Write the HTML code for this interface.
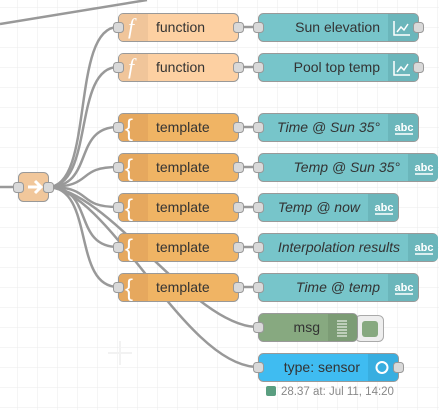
<!DOCTYPE html>
<html><head><meta charset="utf-8"><style>
html,body{margin:0;padding:0;background:#fff;}
svg{display:block;font-family:"Liberation Sans",sans-serif;}
</style></head><body>
<svg width="439" height="410" viewBox="0 0 439 410" xmlns="http://www.w3.org/2000/svg">
<defs>
<pattern id="g" x="17" y="7" width="20" height="20" patternUnits="userSpaceOnUse">
<path d="M0 0H20M0 0V20" stroke="#ebebeb" stroke-width="1" fill="none"/>
</pattern>
</defs>
<rect width="439" height="410" fill="url(#g)"/>
<path d="M108 353h24M120 341v24" stroke="#f2f2f2" stroke-width="2"/>
<g fill="none" stroke="#999" stroke-width="2.5">
<path d="M0 24 L147 0"/>
<path d="M0 187 L18 187"/>
<path d="M48 187 C95 187 70 27 118 27"/>
<path d="M48 187 C95 187 72 67 118 67"/>
<path d="M48 187 C95 187 72 127 118 127"/>
<path d="M48 187 C95 187 75 167 118 167"/>
<path d="M48 187 C95 187 75 207 118 207"/>
<path d="M48 187 C95 187 72 247 118 247"/>
<path d="M48 187 C95 187 72 287 118 287"/>
<path d="M48 187 C110 190 193 327 258 327"/>
<path d="M48 187 C110 190 185 367 258 367"/>
<path d="M238 27H258M238 67H258M238 127H258M238 167H258M238 207H258M238 247H258M238 287H258"/>
</g>
<rect x="18.5" y="172.5" width="30" height="29" rx="5" fill="#f1c79b" stroke="#999"/>
<path d="M28 187h12M35 181l6 6-6 6" stroke="#fff" stroke-width="3" fill="none"/>
<g>
<g>
<rect x="118.5" y="13.5" width="120" height="28" rx="5" fill="#fdd0a2" stroke="#999"/>
<path d="M123 14h25v27h-25a4 4 0 0 1-4-4v-19a4 4 0 0 1 4-4z" fill="#f0c59a"/>
<text x="128" y="34" fill="#fff" font-size="22" font-style="italic" font-family="Liberation Serif,serif">f</text>
<text x="156" y="32" font-size="14" fill="#333">function</text>
</g>
<g>
<rect x="118.5" y="53.5" width="120" height="28" rx="5" fill="#fdd0a2" stroke="#999"/>
<path d="M123 54h25v27h-25a4 4 0 0 1-4-4v-19a4 4 0 0 1 4-4z" fill="#f0c59a"/>
<text x="128" y="74" fill="#fff" font-size="22" font-style="italic" font-family="Liberation Serif,serif">f</text>
<text x="156" y="72" font-size="14" fill="#333">function</text>
</g>
</g>
<g font-size="14" fill="#333">
<g transform="translate(0,113)"><rect x="118.5" y="0.5" width="120" height="28" rx="5" fill="#f0b464" stroke="#999"/><path d="M123 1h25v27h-25a4 4 0 0 1-4-4v-19a4 4 0 0 1 4-4z" fill="#e6a85e"/><text x="125" y="23" fill="#fff" font-size="24">{</text><text x="156" y="19">template</text></g>
<g transform="translate(0,153)"><rect x="118.5" y="0.5" width="120" height="28" rx="5" fill="#f0b464" stroke="#999"/><path d="M123 1h25v27h-25a4 4 0 0 1-4-4v-19a4 4 0 0 1 4-4z" fill="#e6a85e"/><text x="125" y="23" fill="#fff" font-size="24">{</text><text x="156" y="19">template</text></g>
<g transform="translate(0,193)"><rect x="118.5" y="0.5" width="120" height="28" rx="5" fill="#f0b464" stroke="#999"/><path d="M123 1h25v27h-25a4 4 0 0 1-4-4v-19a4 4 0 0 1 4-4z" fill="#e6a85e"/><text x="125" y="23" fill="#fff" font-size="24">{</text><text x="156" y="19">template</text></g>
<g transform="translate(0,233)"><rect x="118.5" y="0.5" width="120" height="28" rx="5" fill="#f0b464" stroke="#999"/><path d="M123 1h25v27h-25a4 4 0 0 1-4-4v-19a4 4 0 0 1 4-4z" fill="#e6a85e"/><text x="125" y="23" fill="#fff" font-size="24">{</text><text x="156" y="19">template</text></g>
<g transform="translate(0,273)"><rect x="118.5" y="0.5" width="120" height="28" rx="5" fill="#f0b464" stroke="#999"/><path d="M123 1h25v27h-25a4 4 0 0 1-4-4v-19a4 4 0 0 1 4-4z" fill="#e6a85e"/><text x="125" y="23" fill="#fff" font-size="24">{</text><text x="156" y="19">template</text></g>
</g>
<g font-size="14" fill="#333">
<g transform="translate(0,13)"><rect x="258.5" y="0.5" width="160" height="28" rx="5" fill="#77c5ca" stroke="#999"/><path d="M388 1h26a4 4 0 0 1 4 4v19a4 4 0 0 1-4 4h-26z" fill="#6bb6bb"/><path d="M394 8v14h16M397 19l4-5 3 3 4-6" stroke="#fff" stroke-width="1.5" fill="none"/><text x="380" y="19" text-anchor="end">Sun elevation</text></g>
<g transform="translate(0,53)"><rect x="258.5" y="0.5" width="160" height="28" rx="5" fill="#77c5ca" stroke="#999"/><path d="M388 1h26a4 4 0 0 1 4 4v19a4 4 0 0 1-4 4h-26z" fill="#6bb6bb"/><path d="M394 8v14h16M397 19l4-5 3 3 4-6" stroke="#fff" stroke-width="1.5" fill="none"/><text x="380" y="19" text-anchor="end">Pool top temp</text></g>
<g transform="translate(0,113)"><rect x="258.5" y="0.5" width="160" height="28" rx="5" fill="#77c5ca" stroke="#999"/><path d="M388 1h26a4 4 0 0 1 4 4v19a4 4 0 0 1-4 4h-26z" fill="#6bb6bb"/><text x="404" y="18" text-anchor="middle" fill="#fff" font-size="11" font-weight="bold">abc</text><path d="M395 21h18" stroke="#fff" stroke-width="1.5"/><text x="380" y="19" text-anchor="end" font-style="italic">Time @ Sun 35°</text></g>
<g transform="translate(0,153)"><rect x="258.5" y="0.5" width="179" height="28" rx="5" fill="#77c5ca" stroke="#999"/><path d="M408 1h26a4 4 0 0 1 4 4v19a4 4 0 0 1-4 4h-26z" fill="#6bb6bb"/><text x="424" y="18" text-anchor="middle" fill="#fff" font-size="11" font-weight="bold">abc</text><path d="M415 21h18" stroke="#fff" stroke-width="1.5"/><text x="400" y="19" text-anchor="end" font-style="italic">Temp @ Sun 35°</text></g>
<g transform="translate(0,193)"><rect x="258.5" y="0.5" width="140" height="28" rx="5" fill="#77c5ca" stroke="#999"/><path d="M368 1h26a4 4 0 0 1 4 4v19a4 4 0 0 1-4 4h-26z" fill="#6bb6bb"/><text x="384" y="18" text-anchor="middle" fill="#fff" font-size="11" font-weight="bold">abc</text><path d="M375 21h18" stroke="#fff" stroke-width="1.5"/><text x="360" y="19" text-anchor="end" font-style="italic">Temp @ now</text></g>
<g transform="translate(0,233)"><rect x="258.5" y="0.5" width="179" height="28" rx="5" fill="#77c5ca" stroke="#999"/><path d="M408 1h26a4 4 0 0 1 4 4v19a4 4 0 0 1-4 4h-26z" fill="#6bb6bb"/><text x="424" y="18" text-anchor="middle" fill="#fff" font-size="11" font-weight="bold">abc</text><path d="M415 21h18" stroke="#fff" stroke-width="1.5"/><text x="400" y="19" text-anchor="end" font-style="italic">Interpolation results</text></g>
<g transform="translate(0,273)"><rect x="258.5" y="0.5" width="160" height="28" rx="5" fill="#77c5ca" stroke="#999"/><path d="M388 1h26a4 4 0 0 1 4 4v19a4 4 0 0 1-4 4h-26z" fill="#6bb6bb"/><text x="404" y="18" text-anchor="middle" fill="#fff" font-size="11" font-weight="bold">abc</text><path d="M395 21h18" stroke="#fff" stroke-width="1.5"/><text x="380" y="19" text-anchor="end" font-style="italic">Time @ temp</text></g>
<g transform="translate(0,313)"><rect x="355.5" y="2.5" width="28" height="26" rx="5" fill="#eee" stroke="#aaa"/><rect x="362" y="8" width="16" height="16" rx="3" fill="#87a980"/><rect x="258.5" y="0.5" width="99" height="28" rx="5" fill="#87a980" stroke="#999"/><path d="M328 1h25a4 4 0 0 1 4 4v19a4 4 0 0 1-4 4h-25z" fill="#7c9c75"/><path d="M337 8h10M337 11h10M337 14h10M337 17h10M337 20h10M337 23h10" stroke="#fff" stroke-width="1"/><text x="320" y="19" text-anchor="end">msg</text></g>
<g transform="translate(0,353)"><rect x="258.5" y="0.5" width="140" height="28" rx="5" fill="#3fbcf1" stroke="#999"/><path d="M368 1h26a4 4 0 0 1 4 4v19a4 4 0 0 1-4 4h-26z" fill="#38aee0"/><circle cx="382" cy="14.5" r="5.5" fill="none" stroke="#fff" stroke-width="2"/><text x="360" y="19" text-anchor="end">type: sensor</text></g>
<rect x="266" y="386" width="10" height="10" rx="2" fill="#5a9e80"/>
<text x="281" y="395" font-size="11.5" fill="#888">28.37 at: Jul 11, 14:20</text>
</g>
<g fill="#d9d9d9" stroke="#999" stroke-width="1">
<rect x="13.5" y="182.5" width="10" height="10" rx="3"/>
<rect x="43.5" y="182.5" width="10" height="10" rx="3"/>
<rect x="113.5" y="22.5" width="10" height="10" rx="3"/><rect x="233.5" y="22.5" width="10" height="10" rx="3"/><rect x="253.5" y="22.5" width="10" height="10" rx="3"/><rect x="413.5" y="22.5" width="10" height="10" rx="3"/>
<rect x="113.5" y="62.5" width="10" height="10" rx="3"/><rect x="233.5" y="62.5" width="10" height="10" rx="3"/><rect x="253.5" y="62.5" width="10" height="10" rx="3"/><rect x="413.5" y="62.5" width="10" height="10" rx="3"/>
<rect x="113.5" y="122.5" width="10" height="10" rx="3"/><rect x="233.5" y="122.5" width="10" height="10" rx="3"/><rect x="253.5" y="122.5" width="10" height="10" rx="3"/>
<rect x="113.5" y="162.5" width="10" height="10" rx="3"/><rect x="233.5" y="162.5" width="10" height="10" rx="3"/><rect x="253.5" y="162.5" width="10" height="10" rx="3"/>
<rect x="113.5" y="202.5" width="10" height="10" rx="3"/><rect x="233.5" y="202.5" width="10" height="10" rx="3"/><rect x="253.5" y="202.5" width="10" height="10" rx="3"/>
<rect x="113.5" y="242.5" width="10" height="10" rx="3"/><rect x="233.5" y="242.5" width="10" height="10" rx="3"/><rect x="253.5" y="242.5" width="10" height="10" rx="3"/>
<rect x="113.5" y="282.5" width="10" height="10" rx="3"/><rect x="233.5" y="282.5" width="10" height="10" rx="3"/><rect x="253.5" y="282.5" width="10" height="10" rx="3"/>
<rect x="253.5" y="322.5" width="10" height="10" rx="3"/>
<rect x="253.5" y="362.5" width="10" height="10" rx="3"/><rect x="393.5" y="362.5" width="10" height="10" rx="3"/>
</g>
</svg>
</body></html>
